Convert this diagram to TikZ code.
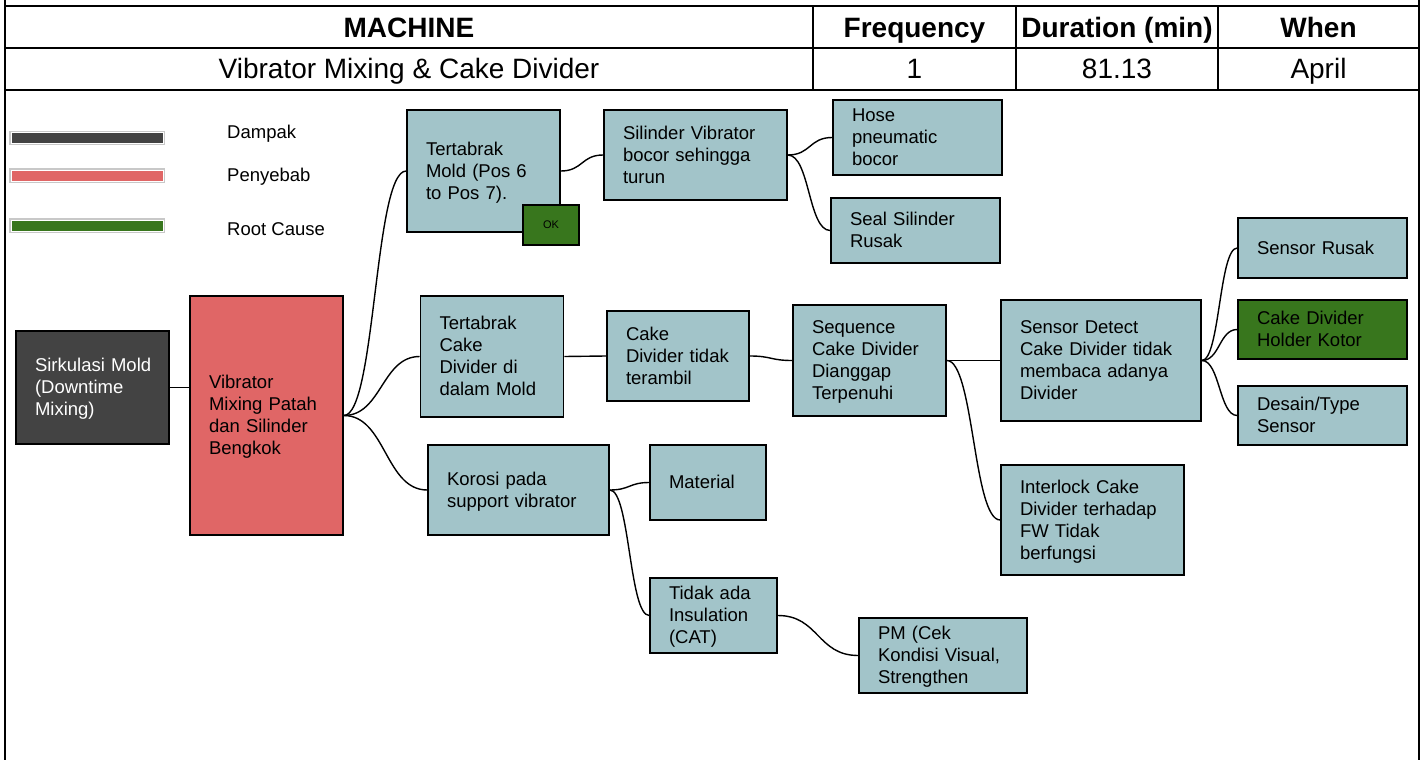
\documentclass[tikz,border=0pt]{standalone}
\usepackage{fontspec}
\setmainfont{Liberation Sans}
\hyphenpenalty=10000
\exhyphenpenalty=10000
\definecolor{tealc}{HTML}{A2C4C9}
\definecolor{darkc}{HTML}{434343}
\definecolor{redc}{HTML}{E06666}
\definecolor{greenc}{HTML}{38761D}
\definecolor{legline}{HTML}{C8C8C8}
\begin{document}
\begin{tikzpicture}[x=1pt,y=-1pt,
  box/.style={draw=black, line width=1.6pt, fill=tealc, inner xsep=19pt, inner ysep=0pt,
    align=left, font=\fontsize{18.5}{22}\selectfont, text=black,
    execute at begin node={\rule{0pt}{17.4pt}},
    execute at end node={\rule[-4.6pt]{0pt}{4.6pt}}},
  conn/.style={draw=black, line width=1.4pt},
  grid/.style={draw=black, line width=2pt},
  hdr/.style={anchor=base, inner sep=0pt, font=\fontsize{28}{32}\selectfont\bfseries},
  cell/.style={anchor=base, inner sep=0pt, font=\fontsize{28}{32}\selectfont},
  legtxt/.style={anchor=base west, inner sep=0pt, font=\fontsize{18.5}{22}\selectfont},
  legbar/.style={minimum width=152pt, minimum height=11pt, inner sep=0pt, draw=white, line width=1pt,
    preaction={draw=legline, line width=3.4pt}},
]
\useasboundingbox (0,0) rectangle (1425,760);
\fill[white] (0,0) rectangle (1425,760);

% table frame
\draw[grid] (5,0) -- (5,760);
\draw[grid] (1419,0) -- (1419,760);
\draw[grid] (5,6) -- (1419,6);
\draw[grid] (5,48) -- (1419,48);
\draw[grid] (5,90) -- (1419,90);
\draw[grid] (813,6) -- (813,90);
\draw[grid] (1016,6) -- (1016,90);
\draw[grid] (1218,6) -- (1218,90);

\node[hdr] (hmach) at (409,37.5) {MACHINE};
\node[hdr] (hfreq) at (914.5,37.5) {Frequency};
\node[hdr] (hdur) at (1117,37.5) {Duration (min)};
\node[hdr] (hwhen) at (1318.5,37.5) {When};
\node[cell] (vmach) at (409,79) {Vibrator Mixing \& Cake Divider};
\node[cell] (vfreq) at (914.5,79) {1};
\node[cell] (vdur) at (1117,79) {81.13};
\node[cell] (vwhen) at (1318.5,79) {April};

% legend
\node[legbar, fill=darkc] (legd) at (87,138) {};
\node[legbar, fill=redc] (legp) at (87,175.5) {};
\node[legbar, fill=greenc] (legr) at (87,225.5) {};
\node[legtxt] (tlegd) at (227,138) {Dampak};
\node[legtxt] (tlegp) at (227,181) {Penyebab};
\node[legtxt] (tlegr) at (227,235.5) {Root Cause};

% boxes
\node[box, fill=darkc, text=white, minimum width=153pt, text width=115pt, minimum height=113pt] (sirk) at (92.5,387.5) {Sirkulasi~Mold\\(Downtime\\Mixing)};
\node[box, fill=redc, minimum width=153pt, text width=115pt, minimum height=239pt] (vib) at (266.5,415.5) {Vibrator\\Mixing~Patah\\dan~Silinder\\Bengkok};
\node[box, minimum width=153pt, text width=115pt, minimum height=122pt] (tmold) at (483.5,171) {Tertabrak\\Mold~(Pos~6\\to~Pos~7).};
\node[draw=black, line width=1.6pt, fill=greenc, minimum width=56pt, minimum height=40pt, inner sep=0pt, font=\fontsize{11}{12}\selectfont] (ok) at (551,225) {OK};
\node[box, minimum width=183pt, text width=145pt, minimum height=90pt] (sil) at (695.5,155) {Silinder~Vibrator\\bocor~sehingga\\turun};
\node[box, minimum width=169pt, text width=131pt, minimum height=75pt] (hose) at (917.5,137.5) {Hose\\pneumatic\\bocor};
\node[box, minimum width=169pt, text width=131pt, minimum height=65pt] (seal) at (915.5,230.5) {Seal~Silinder\\Rusak};
\node[box, minimum width=143pt, text width=105pt, minimum height=121pt] (tcake) at (492,356.5) {Tertabrak\\Cake\\Divider~di\\dalam~Mold};
\node[box, minimum width=142pt, text width=104pt, minimum height=90pt] (cdiv) at (678,356) {Cake\\Divider~tidak\\terambil};
\node[box, minimum width=153pt, text width=115pt, minimum height=111pt] (seq) at (869.5,360.5) {Sequence\\Cake~Divider\\Dianggap\\Terpenuhi};
\node[box, minimum width=200pt, text width=162pt, minimum height=121pt] (sdet) at (1101,360.5) {Sensor~Detect\\Cake~Divider~tidak\\membaca~adanya\\Divider};
\node[box, minimum width=169pt, text width=131pt, minimum height=60pt] (srus) at (1322.5,248) {Sensor~Rusak};
\node[box, fill=greenc, minimum width=169pt, text width=131pt, minimum height=59pt] (hold) at (1322.5,329.5) {Cake~Divider\\Holder~Kotor};
\node[box, minimum width=169pt, text width=131pt, minimum height=59pt] (des) at (1322.5,415.5) {Desain/Type\\Sensor};
\node[box, minimum width=183pt, text width=145pt, minimum height=110pt] (intl) at (1092.5,520) {Interlock~Cake\\Divider~terhadap\\FW~Tidak\\berfungsi};
\node[box, minimum width=181pt, text width=143pt, minimum height=90pt] (kor) at (518.5,490) {Korosi~pada\\support~vibrator};
\node[box, minimum width=116pt, text width=78pt, minimum height=75pt] (mat) at (708,482.5) {Material};
\node[box, minimum width=127pt, text width=89pt, minimum height=75pt] (tida) at (713.5,615.5) {Tidak~ada\\Insulation\\(CAT)};
\node[box, minimum width=168pt, text width=130pt, minimum height=75pt] (pm) at (943,655.5) {PM~(Cek\\Kondisi~Visual,\\Strengthen};

% connectors
\draw[conn] (sirk.east) -- (sirk.east -| vib.west);
\draw[conn] (vib.east) .. controls +(32,0) and +(-32,0) .. (tmold.west);
\draw[conn] (vib.east) .. controls +(38,0) and +(-38,0) .. (tcake.west);
\draw[conn] (vib.east) .. controls +(42,0) and +(-42,0) .. (kor.west);
\draw[conn] (tmold.east) .. controls +(22,0) and +(-22,0) .. (sil.west);
\draw[conn] (sil.east) .. controls +(23,0) and +(-23,0) .. (hose.west);
\draw[conn] (sil.east) .. controls +(22,0) and +(-22,0) .. (seal.west);
\draw[conn] (tcake.east) -- (cdiv.west);
\draw[conn] (cdiv.east) .. controls +(22,0) and +(-22,0) .. (seq.west);
\draw[conn] (seq.east) -- (sdet.west);
\draw[conn] (seq.east) .. controls +(27,0) and +(-27,0) .. (intl.west);
\draw[conn] (sdet.east) .. controls +(18,0) and +(-18,0) .. (srus.west);
\draw[conn] (sdet.east) .. controls +(18,0) and +(-18,0) .. (hold.west);
\draw[conn] (sdet.east) .. controls +(18,0) and +(-18,0) .. (des.west);
\draw[conn] (kor.east) .. controls +(20,0) and +(-20,0) .. (mat.west);
\draw[conn] (kor.east) .. controls +(20,0) and +(-20,0) .. (tida.west);
\draw[conn] (tida.east) .. controls +(41,0) and +(-41,0) .. (pm.west);
\end{tikzpicture}
\end{document}
